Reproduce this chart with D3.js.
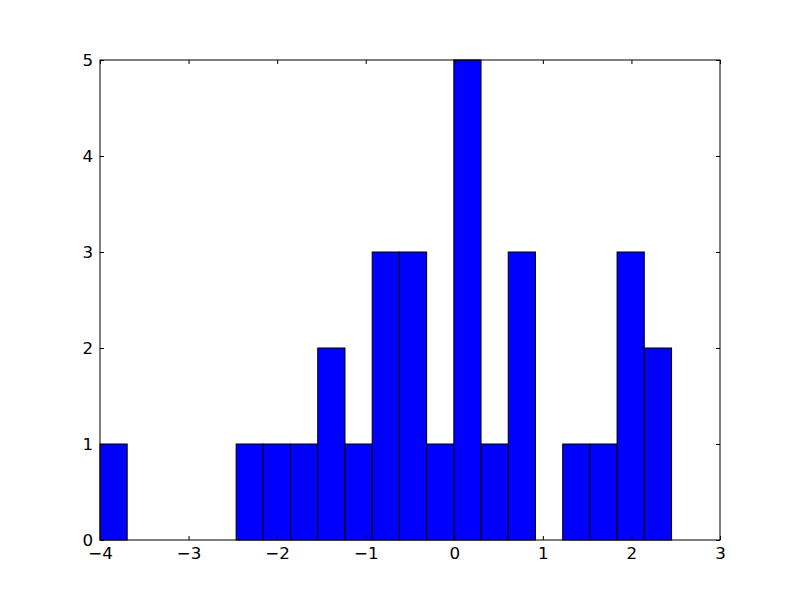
<!DOCTYPE html>
<html><head><meta charset="utf-8">
<script src="https://cdn.jsdelivr.net/npm/d3@7/dist/d3.min.js"></script>
<style>body{margin:0;background:#fff}svg{display:block}</style>
</head><body>
<svg id="c" width="800" height="600"></svg>
<script>
const binEdges = [-4, -3.693, -3.385, -3.078, -2.771, -2.463, -2.156, -1.849, -1.542, -1.234, -0.927, -0.620, -0.312, -0.005, 0.302, 0.609, 0.916, 1.224, 1.531, 1.838, 2.145, 2.453];
const counts = [1, 0, 0, 0, 0, 1, 1, 1, 2, 1, 3, 3, 1, 5, 1, 3, 0, 1, 1, 3, 2];
const xTicks = [-4, -3, -2, -1, 0, 1, 2, 3];
const yTicks = [0, 1, 2, 3, 4, 5];

const svg = d3.select("#c");
const L = 100, R = 720, T = 60, B = 540;
const x = d3.scaleLinear().domain([-4, 3]).range([L, R]);
const y = d3.scaleLinear().domain([0, 5]).range([B, T]);
const fmt = d => (d < 0 ? "\u2212" + Math.abs(d) : "" + d);

const bars = counts.map((c, i) => ({x0: binEdges[i], x1: binEdges[i + 1], c})).filter(d => d.c > 0);
svg.append("g").selectAll("rect").data(bars).join("rect")
  .attr("x", d => x(d.x0)).attr("width", d => x(d.x1) - x(d.x0))
  .attr("y", d => y(d.c)).attr("height", d => y(0) - y(d.c))
  .attr("fill", "#0000ff").attr("stroke", "#000").attr("stroke-width", 1);

const font = "DejaVu Sans, sans-serif";
const axB = d3.axisBottom(x).tickValues(xTicks).tickFormat(fmt).tickSizeInner(-4).tickSizeOuter(0).tickPadding(7);
const axT = d3.axisTop(x).tickValues(xTicks).tickFormat("").tickSizeInner(-4).tickSizeOuter(0);
const axL = d3.axisLeft(y).tickValues(yTicks).tickFormat(fmt).tickSizeInner(-4).tickSizeOuter(0).tickPadding(7);
const axR = d3.axisRight(y).tickValues(yTicks).tickFormat("").tickSizeInner(-4).tickSizeOuter(0);

function style(g){
  g.select(".domain").remove();
  g.selectAll("line").attr("stroke", "#000").attr("stroke-width", 1);
  g.selectAll("text").attr("font-family", font).attr("font-size", 16.7).attr("fill", "#000");
}
svg.append("g").attr("transform", `translate(0,${B})`).call(axB).call(style);
svg.append("g").attr("transform", `translate(0,${T})`).call(axT).call(style);
svg.append("g").attr("transform", `translate(${L},0)`).call(axL).call(style);
svg.append("g").attr("transform", `translate(${R},0)`).call(axR).call(style);

svg.append("rect").attr("x", L).attr("y", T).attr("width", R - L).attr("height", B - T)
  .attr("fill", "none").attr("stroke", "#000").attr("stroke-width", 1);
</script>
</body></html>
